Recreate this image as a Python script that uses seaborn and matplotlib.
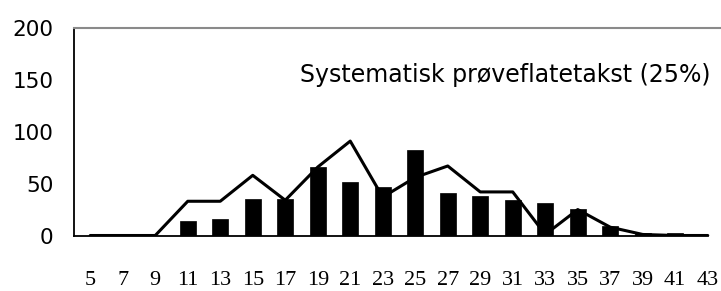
import matplotlib
matplotlib.use("Agg")
import matplotlib.pyplot as plt
import numpy as np
import pandas as pd
import seaborn as sns

# Data
classes = [5, 7, 9, 11, 13, 15, 17, 19, 21, 23, 25, 27, 29, 31, 33, 35, 37, 39, 41, 43]
bar_values = [0, 0, 0, 14, 16, 35, 35, 66, 52, 47, 82, 41, 38, 34, 31, 26, 9, 2, 2, 0]
line_values = [0, 0, 0, 33, 33, 58, 34, 66, 91, 37, 56, 67, 42, 42, 1, 25, 8, 1, 0, 0]
title_text = "Systematisk prøveflatetakst (25%)"

df = pd.DataFrame({"klasse": [str(c) for c in classes],
                   "antall": bar_values,
                   "takst": line_values})
df["pos"] = np.arange(len(df))

sns.set_style("white")
plt.rcParams["font.family"] = ["DejaVu Sans"]
plt.rcParams["text.color"] = "black"
plt.rcParams["xtick.color"] = "black"
plt.rcParams["ytick.color"] = "black"

fig = plt.figure(figsize=(7.21, 2.91), dpi=100)
ax = fig.add_axes([74 / 721, 55.5 / 291, 650 / 721, 207.5 / 291])

sns.barplot(data=df, x="klasse", y="antall", color="black", width=0.48,
            saturation=1, edgecolor="black", linewidth=0.5, ax=ax, zorder=3)
sns.lineplot(data=df, x="pos", y="takst", color="black", linewidth=2.2,
             ax=ax, zorder=2)

ax.set_xlim(-0.5, len(classes) - 0.5)
ax.set_ylim(0, 200)
ax.set_yticks([0, 50, 100, 150, 200])
ax.tick_params(axis="y", direction="inout", length=11.5, width=1, labelsize=15.5, pad=9)

# tick marks at category borders, labels at centres
ax.set_xticks(np.arange(len(classes)) - 0.5)
ax.set_xticklabels([])
ax.set_xticks(np.arange(len(classes)), minor=True)
ax.set_xticklabels([str(c) for c in classes], minor=True)
ax.tick_params(axis="x", which="major", direction="inout", length=11.5, width=1)
ax.tick_params(axis="x", which="minor", length=0, pad=25.5, labelsize=16)
for lab in ax.get_xticklabels(minor=True):
    lab.set_fontfamily("Liberation Serif")
ax.set_xlabel("")
ax.set_ylabel("")

for s in ["left", "bottom"]:
    ax.spines[s].set_color("black")
    ax.spines[s].set_linewidth(1.3)
ax.spines["bottom"].set_bounds(-0.5, 19.0)
ax.spines["right"].set_visible(False)
ax.spines["top"].set_color("#8a8a8a")
ax.spines["top"].set_linewidth(1.5)

fig.text(300 / 721, 1 - 75 / 291, title_text, fontsize=17, va="center", ha="left")

fig.savefig("out.png", dpi=100)
